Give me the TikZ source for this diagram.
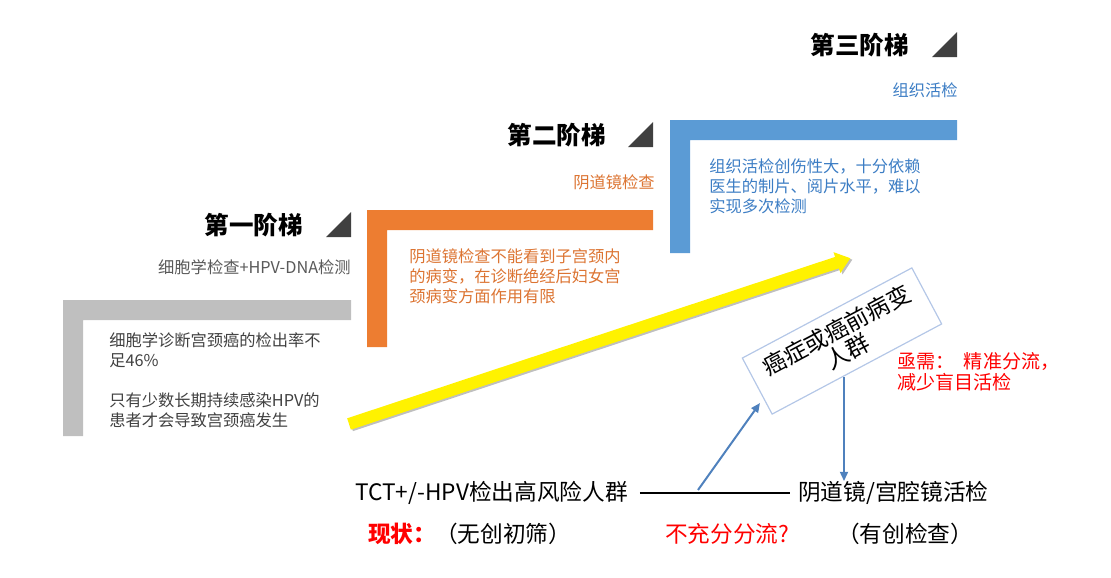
\documentclass[tikz,border=0pt]{standalone}
\usepackage{fontspec}
\setmainfont{Noto Sans CJK SC}
\usetikzlibrary{arrows.meta}
\definecolor{stepgray}{HTML}{BFBFBF}
\definecolor{steporange}{HTML}{ED7D31}
\definecolor{stepblue}{HTML}{5B9BD5}
\definecolor{txtgray}{HTML}{404040}
\definecolor{subgray}{HTML}{595959}
\definecolor{txtorange}{HTML}{DC7432}
\definecolor{txtblue}{HTML}{3C7DC4}
\definecolor{cornergray}{HTML}{404040}
\definecolor{flowblue}{HTML}{4F81BD}
\definecolor{boxblue}{HTML}{B4C7E7}
\definecolor{alertred}{HTML}{FF0000}

% L-shaped stair bar: colour, left x, top y, right x, bottom y
\newcommand{\stairbar}[5]{%
  \fill[#1] (#2,#3) -- (#4,#3) -- (#4,#3+20) -- (#2+20,#3+20)
    -- (#2+20,#5) -- (#2,#5) -- cycle;}

\begin{document}
\begin{tikzpicture}[
    x=0.75pt, y=-0.75pt,
    >={Triangle[length=7pt, width=6pt]},
    every node/.style={inner sep=0pt},
    title/.style={anchor=east, font=\fontsize{18.4}{22}\selectfont\bfseries},
    subtitle/.style={anchor=east, font=\fontsize{12.2}{15}\selectfont},
    bodytext/.style={anchor=west, align=left, font=\fontsize{12.2}{15}\selectfont},
    flowtext/.style={font=\fontsize{17}{20}\selectfont},
    flow/.style={->, flowblue, line width=1.5pt},
  ]

  \useasboundingbox (0,0) rectangle (1111,578);

  % === Stairs ===
  \stairbar{stepgray}{63}{300}{351}{436}
  \stairbar{steporange}{367}{210}{653}{347}
  \stairbar{stepblue}{670}{120}{957}{253}

  % corner marks next to the step titles
  \foreach \x/\y in {351/237, 653/147, 957/57}
    \fill[cornergray] (\x-25,\y) -- (\x,\y-25) -- (\x,\y) -- cycle;

  % --- step 1 ---
  \node[title] (stepone) at (303,225) {第一阶梯};
  \node[subtitle, subgray] (subone) at (351,267) {细胞学检查+HPV-DNA检测};
  \node[bodytext, txtgray] (bodyone) at (109,380)
    {细胞学诊断宫颈癌的检出率不\\足46\%\\[15pt]只有少数长期持续感染HPV的\\患者才会导致宫颈癌发生};

  % --- step 2 ---
  \node[title] (steptwo) at (606,135) {第二阶梯};
  \node[subtitle, txtorange] (subtwo) at (655,182) {阴道镜检查};
  \node[bodytext, txtorange] (bodytwo) at (409,276)
    {阴道镜检查不能看到子宫颈内\\的病变，在诊断绝经后妇女宫\\颈病变方面作用有限};

  % --- step 3 ---
  \node[title] (stepthree) at (909,45) {第三阶梯};
  \node[subtitle, txtblue] (subthree) at (958,90) {组织活检};
  \node[bodytext, txtblue] (bodythree) at (709,186)
    {组织活检创伤性大，十分依赖\\医生的制片、阅片水平，难以\\实现多次检测};

  % === Yellow arrow (tail at 349,424, tip at 850,258) ===
  \begin{scope}[shift={(349,424)}, rotate=18.3]
    \fill[black!25, shift={(1.5,2)}]
      (0,-6) -- (514,-6) -- (514,-11) -- (528,0) -- (514,11) -- (514,6) -- (0,6) -- cycle;
    \fill[yellow]
      (0,-6) -- (514,-6) -- (514,-11) -- (528,0) -- (514,11) -- (514,6) -- (0,6) -- cycle;
  \end{scope}

  % === Lesion box ===
  \node[draw=boxblue, line width=0.9pt, rotate=28, minimum width=144pt,
    minimum height=47.6pt, align=center, font=\fontsize{17.5}{18}\selectfont]
    (lesion) at (842,341) {癌症或癌前病变\\人群};

  \node[anchor=west, align=left, alertred, font=\fontsize{14.3}{15.75}\selectfont]
    (need) at (897,372) {亟需：\hspace{0.5em}精准分流，\\减少盲目活检};

  % === Bottom flow ===
  \node[flowtext, anchor=west] (tct) at (355,493) {TCT+/-HPV检出高风险人群};
  \node[flowtext, anchor=west] (colpo) at (798,493) {阴道镜/宫腔镜活检};
  \draw[line width=0.9pt, shorten <=9pt, shorten >=6pt] (tct) -- (colpo);

  \coordinate (split) at (698,490);
  \coordinate (lesionin) at (760,403);
  \coordinate (lesionout) at (844,377);
  \draw[flow] (split) -- (lesionin);
  \draw[flow] (lesionout) -- (lesionout |- colpo.north);

  \node[anchor=west, alertred, font=\fontsize{17}{20}\selectfont\bfseries]
    (now) at (368,534) {现状：};
  \node[flowtext] (noninv) at (503,534) {（无创初筛）};
  \node[flowtext, anchor=west, alertred] (triage) at (665,534) {不充分分流?};
  \node[flowtext] (inv) at (905,534) {（有创检查）};

\end{tikzpicture}
\end{document}
